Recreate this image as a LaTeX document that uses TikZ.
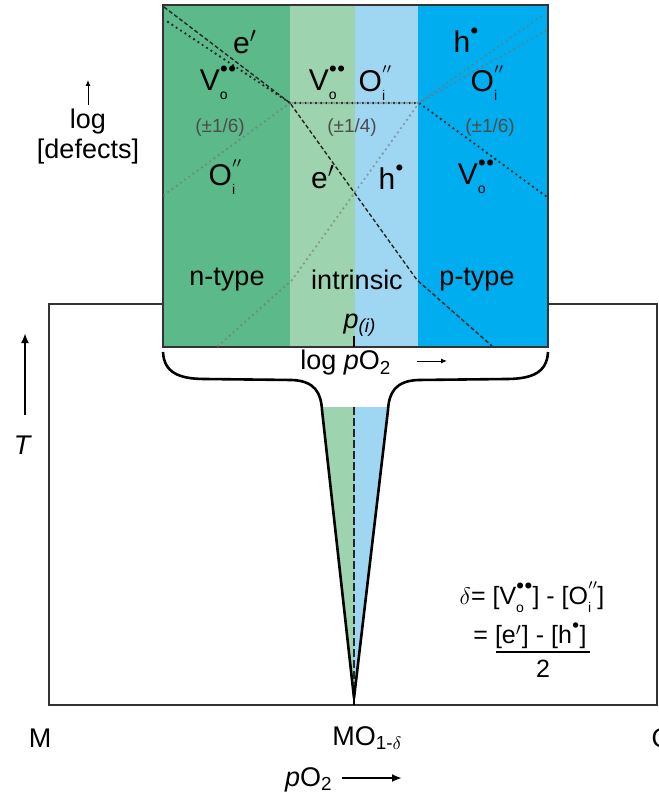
\documentclass[tikz,border=0pt]{standalone}
\usepackage{fontspec}
\setmainfont{Liberation Sans}
\usetikzlibrary{arrows.meta,positioning}
\definecolor{NGreen}{HTML}{5BB98A}
\definecolor{IGreen}{HTML}{9DD3AE}
\definecolor{IBlue}{HTML}{9FD7F3}
\definecolor{PBlue}{HTML}{00ADEE}
\definecolor{FrameGray}{HTML}{333333}
% Kroeger-Vink symbol: letter, site, charge
\newcommand{\kv}[3]{#1\rlap{\raisebox{-0.55ex}{\fontsize{7}{8}\selectfont #2}}\raisebox{1.15ex}{\fontsize{7}{8}\selectfont$#3$}}
\newcommand{\dt}{\bullet}

\begin{document}
\begin{tikzpicture}[x=0.5pt,y=-0.5pt,node distance=2pt,
 lbl/.style={font=\fontsize{13.5}{15}\selectfont,inner sep=0pt},
 defect/.style={font=\fontsize{15}{16}\selectfont,inner sep=0pt},
 slope/.style={font=\fontsize{9.5}{11}\selectfont,inner sep=0pt,black!70},
 eline/.style={dash pattern=on 2pt off 1.2pt,line width=0.7pt,black!85},
 vline/.style={dash pattern=on 0pt off 2.6pt,line cap=round,line width=1.3pt,black!85},
 oline/.style={dash pattern=on 0pt off 2.6pt,line cap=round,line width=1.3pt,black!55,opacity=0.6},
 frame/.style={draw=FrameGray,line width=1pt},
 brace/.style={draw=black,line width=1.3pt,line join=round},
 bigarrow/.style={-{Latex[length=5pt,width=4pt]},line width=1.1pt},
 smallarrow/.style={-{Latex[length=3pt,width=2.5pt]},line width=0.5pt}]
\useasboundingbox[fill=white] (0,0) rectangle (658,796);

% phase diagram frame
\draw[frame] (49,304) rectangle (657,705);

% defect diagram: regions
\foreach \xa/\xb/\col in {163/290/NGreen,290/355/IGreen,355/418/IBlue,418/548/PBlue}
 \fill[\col] (\xa,5) rectangle (\xb,347);
\draw[frame] (163,5) rectangle (548,347);

% knees of the defect lines
\coordinate (nk) at (290,103);
\coordinate (pk) at (419,103);
\coordinate (nh) at (292,280);
\coordinate (pe) at (417,280);

\draw[eline] (164,7) -- (nk) -- (pe) -- (492,346);
\draw[vline] (168,22) -- (nk);
\draw[vline] (nk) -- (pk) -- (547,197);
\draw[oline] (164,195) -- (nk);
\draw[oline,dash phase=1.3pt] (nk) -- (pk) -- (544,14);
\draw[oline] (218,346) -- (nh) -- (pk) -- (547,30);

% defect labels
\node[defect] (e1) at (245,42) {e$'$};
\node[defect] (v1) at (218,83) {\kv{V}{o}{\dt\dt}};
\node[slope] (s1) at (220,128) {(±1/6)};
\node[defect] (o1) at (225,177) {\kv{O}{i}{\prime\prime}};
\node[defect] (v2) at (327,83) {\kv{V}{o}{\dt\dt}};
\node[defect] (o2) at (375,83) {\kv{O}{i}{\prime\prime}};
\node[slope] (s2) at (352,128) {(±1/4)};
\node[defect] (e2) at (323,177) {e$'$};
\node[defect] (h2) at (391,177) {h\raisebox{1.15ex}{\fontsize{7}{8}\selectfont$\dt$}};
\node[defect] (h3) at (466,40) {h\raisebox{1.15ex}{\fontsize{7}{8}\selectfont$\dt$}};
\node[defect] (o3) at (487,83) {\kv{O}{i}{\prime\prime}};
\node[slope] (s3) at (490,128) {(±1/6)};
\node[defect] (v3) at (476,177) {\kv{V}{o}{\dt\dt}};

\node[lbl] (ntype) at (227,280) {n-type};
\node[lbl] (intr) at (357,280) {intrinsic};
\node[lbl] (ptype) at (477,280) {p-type};
\node[lbl] (pint) at (360,325) {\textit{p}\textsubscript{\textit{(i)}}};
\coordinate (tick) at (354,336);
\draw[line width=1pt] (tick) -- (354,347);

\node[lbl,anchor=west] (logp) at (300,363) {log \textit{p}O\textsubscript{2}};
\coordinate (la) at (417,361);
\coordinate (lb) at (447,361);
\draw[smallarrow] (la) -- (lb);

% vertical axis of the defect diagram
\node[lbl] (log) at (88,122) {log};
\node[lbl,below=of log] (defects) {[defects]};
\coordinate (da) at (88,105);
\coordinate (db) at (88,80);
\draw[smallarrow] (da) -- (db);

% brace and funnel into the phase diagram
\fill[IGreen] (322,407) -- (354,407) -- (354,698) -- cycle;
\fill[IBlue] (354,407) -- (388,407) -- (354,698) -- cycle;
\draw[brace] (163,352) .. controls (164,372) and (178,379) .. (205,379) -- (292,380)
 .. controls (315,381) and (321,393) .. (322,410) -- (354,698) -- (388,410)
 .. controls (389,393) and (395,381) .. (418,380) -- (506,379)
 .. controls (533,379) and (547,372) .. (548,352);
\coordinate (ftop) at (354,407);
\coordinate (ftip) at (354,705);
\draw[dash pattern=on 4pt off 1.5pt,line width=0.9pt,black!85] (ftop) -- (354,690);
\draw[line width=1.2pt] (354,685) -- (ftip);

% phase diagram axes
\node[lbl,font=\fontsize{13.5}{15}\selectfont\itshape] (T) at (22,445) {T};
\coordinate (ta) at (25,415);
\coordinate (tb) at (25,333);
\draw[bigarrow] (ta) -- (tb);
\node[lbl] (M) at (40,738) {M};
\node[lbl,anchor=west] (MO) at (332,738) {MO\textsubscript{1-$\delta$}};
\node[lbl] (O) at (662,738) {O};
\node[lbl,anchor=east] (pO) at (333,780) {\textit{p}O\textsubscript{2}};
\coordinate (pa) at (342,778);
\coordinate (pb) at (402,778);
\draw[bigarrow] (pa) -- (pb);

% nonstoichiometry
\node[lbl,font=\fontsize{12.5}{14}\selectfont] (dlt) at (532,597) {$\delta$= [\kv{V}{o}{\dt\dt}] - [\kv{O}{i}{\prime\prime}]};
\node[lbl,font=\fontsize{12.5}{14}\selectfont] (eh) at (530,636) {= [e$'$] - [h\raisebox{1.15ex}{\fontsize{6}{7}\selectfont$\dt$}]};
\coordinate (fa) at (496,652);
\coordinate (fb) at (590,652);
\draw[line width=0.9pt] (fa) -- (fb);
\node[lbl,font=\fontsize{12.5}{14}\selectfont] (two) at (543,669) {2};
\end{tikzpicture}
\end{document}
